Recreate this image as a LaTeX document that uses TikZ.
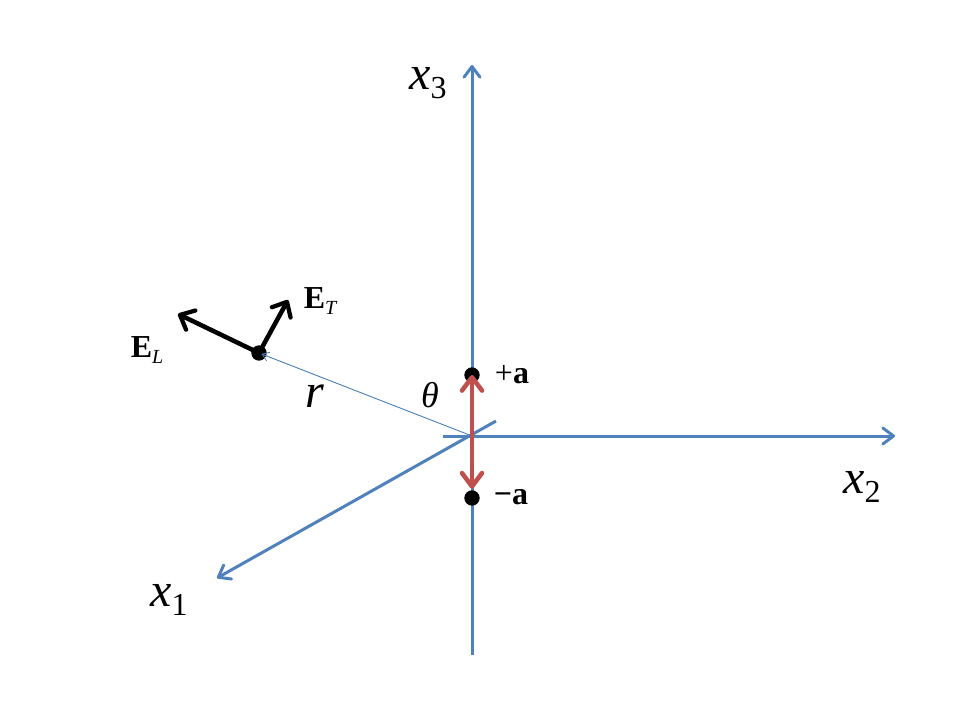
\documentclass[tikz,border=0pt]{standalone}
\usepackage{fontspec}
\usepackage{xcolor}
\setmainfont{Liberation Serif}
\usetikzlibrary{arrows.meta}
\definecolor{axisblue}{HTML}{4F81BD}
\definecolor{dipolered}{HTML}{C0504D}
\tikzset{
    axisline/.style={draw=axisblue, line width=2.25pt, -{Straight Barb[round,length=8pt,width=12pt,line width=2.25pt]}},
    dipoleline/.style={draw=dipolered, line width=3.6pt, -{Straight Barb[round,length=10pt,width=15pt,line width=3.4pt]}},
    fieldline/.style={draw=black, line width=3.4pt, -{Straight Barb[round,length=9pt,width=16pt,line width=3.2pt]}},
    radiusline/.style={draw=axisblue, line width=0.7pt, shorten >=2pt, -{Straight Barb[length=5pt,width=7pt,line width=0.6pt]}},
    blackdot/.style={circle, fill=black, inner sep=0pt, minimum size=11.5pt},
    bigmath/.style={inner sep=0pt, font=\fontsize{36}{36}\selectfont\itshape},
    smalllabel/.style={inner sep=0pt, font=\fontsize{24}{24}\selectfont}
}
\begin{document}
\begin{tikzpicture}[x=0.75pt, y=-0.75pt]
    \useasboundingbox (0,0) rectangle (960,720);
    \coordinate (origin) at (472,436);
    \coordinate (x3start) at (472,655);
    \coordinate (x3end) at (472,65);
    \coordinate (x2start) at (443,436);
    \coordinate (x2end) at (895,436);
    \coordinate (x1start) at (496,421);
    \coordinate (x1end) at (217,578);
    \coordinate (ELend) at (178,314);
    \coordinate (ETend) at (288,300);
    % axes
    \draw [axisline] (x3start) -- (x3end);
    \draw [axisline] (x2start) -- (x2end);
    \draw [axisline] (x1start) -- (x1end);
    % points
    \node [blackdot] (field) at (259,353) {};
    \node [blackdot] (plusa) at (472,375) {};
    \node [blackdot] (minusa) at (472,498) {};
    % vectors
    \draw [radiusline] (origin) -- (field.center);
    \draw [fieldline] (field.center) -- (ELend);
    \draw [fieldline] (field.center) -- (ETend);
    \draw [dipoleline] (origin) -- (plusa.center);
    \draw [dipoleline, shorten >=7pt] (origin) -- (minusa.center);
    % labels
    \node [bigmath] (x3label) at (428,83) {x\raisebox{-0.2em}{\fontsize{24}{24}\selectfont\upshape 3}};
    \node [bigmath] (x2label) at (862,487) {x\raisebox{-0.2em}{\fontsize{24}{24}\selectfont\upshape 2}};
    \node [bigmath] (x1label) at (169,600) {x\raisebox{-0.2em}{\fontsize{24}{24}\selectfont\upshape 1}};
    \node [bigmath] (rlabel) at (315,396) {r};
    \node [smalllabel, font=\fontsize{27}{27}\selectfont\itshape] (thetalabel) at (430,395) {θ};
    \node [smalllabel] (ETlabel) at (320,301) {\textbf{E}\raisebox{-0.2em}{\fontsize{15}{15}\selectfont\itshape T}};
    \node [smalllabel] (ELlabel) at (147,350) {\textbf{E}\raisebox{-0.2em}{\fontsize{15}{15}\selectfont\itshape L}};
    \node [smalllabel] (plusalabel) at (512,375) {+\textbf{a}};
    \node [smalllabel] (minusalabel) at (511,497) {\textbf{−a}};
\end{tikzpicture}
\end{document}
